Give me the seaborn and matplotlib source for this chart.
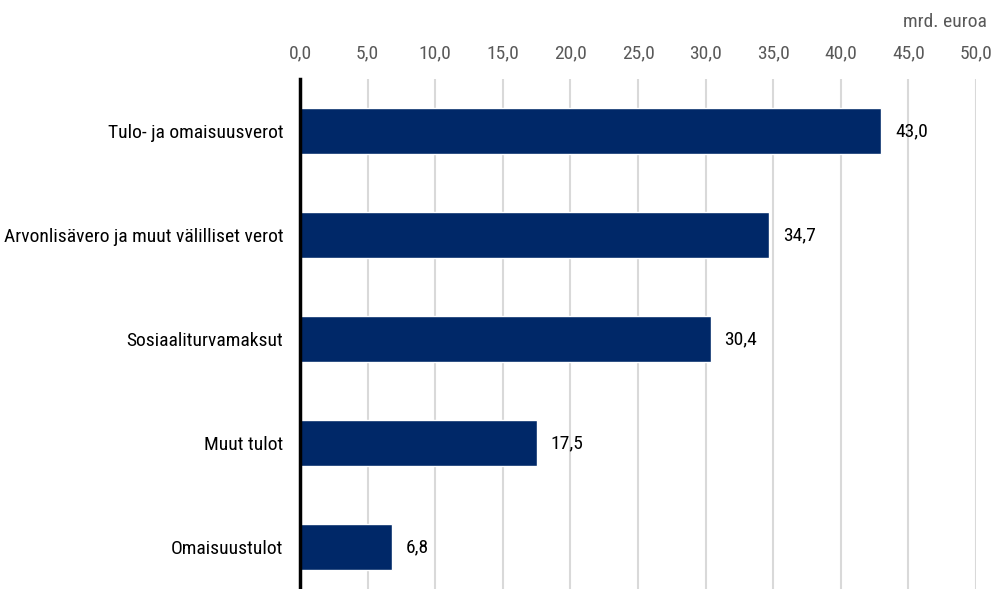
import pandas as pd
import seaborn as sns
import matplotlib.pyplot as plt

# data
categories = ["Tulo- ja omaisuusverot", "Arvonlisävero ja muut välilliset verot",
              "Sosiaaliturvamaksut", "Muut tulot", "Omaisuustulot"]
values = [43.0, 34.7, 30.4, 17.5, 6.8]
ticks = [0, 5, 10, 15, 20, 25, 30, 35, 40, 45, 50]

df = pd.DataFrame({"kategoria": categories, "arvo": values})

sns.set_style("white")
plt.rcParams['font.family'] = ['Roboto Condensed', 'Liberation Sans Narrow', 'DejaVu Sans']
plt.rcParams['font.stretch'] = 'condensed'

fig = plt.figure(figsize=(9.99, 5.89), dpi=100)
ax = fig.add_axes([0.3003, -0.017, 0.6767, 0.883])

sns.barplot(data=df, x="arvo", y="kategoria", color="#002868", width=0.45,
            saturation=1, ax=ax, zorder=3)

ax.set_xlim(0, 50)
ax.set_xticks(ticks)
ax.set_xticklabels([f"{t:.1f}".replace(".", ",") for t in ticks])
ax.xaxis.tick_top()
ax.tick_params(axis="x", length=0, pad=12, labelsize=14, labelcolor="#595959")
ax.tick_params(axis="y", length=0, pad=12, labelsize=14, labelcolor="black")
ax.grid(axis="x", color="#d9d9d9", linewidth=1.5, zorder=0)
ax.set_xlabel("")
ax.set_ylabel("")
for s in ["top", "right", "bottom"]:
    ax.spines[s].set_visible(False)
ax.spines["left"].set_color("black")
ax.spines["left"].set_linewidth(2.5)
ax.spines["left"].set_zorder(5)

for i, v in enumerate(values):
    ax.text(v + 1.0, i, f"{v:.1f}".replace(".", ","), va="center", ha="left",
            fontsize=14, color="black")

fig.text(0.988, 0.962, "mrd. euroa", ha="right", va="center", fontsize=14, color="#595959")

fig.savefig("out.png", dpi=100)
